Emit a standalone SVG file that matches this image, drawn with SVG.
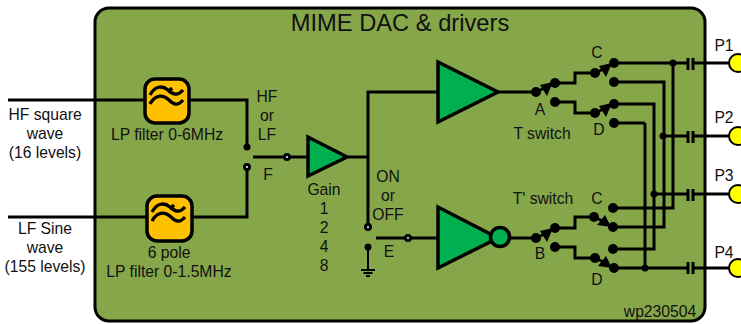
<svg xmlns="http://www.w3.org/2000/svg" width="741" height="324" viewBox="0 0 741 324">
<style>
text{font-family:"Liberation Sans",Arial,sans-serif;font-size:15.700px;fill:#111;text-anchor:middle}
.w{fill:none;stroke:#000;stroke-width:3}
.g{fill:none;stroke:#000;stroke-width:2}
.a{fill:#00b050;stroke:#000;stroke-width:3.500}
.f{fill:#ffc000;stroke:#000;stroke-width:3.500}
.v{fill:none;stroke:#000;stroke-width:3.300}
.o{fill:#fff;stroke:#000;stroke-width:3}
.p{fill:#ffff00;stroke:#000;stroke-width:2}
</style>
<defs>
<g id="wave"><path class="v" d="M5 16C10 7 17 6 23 11C28 16 33 17 38 11"/><path class="v" d="M5 25C10 16 17 15 24 21C29 26 33 27 38 21"/><path class="v" d="M23 13L27 9"/></g>
<g id="sw"><path d="M0 0L13 -6" stroke="#000" stroke-width="2.500"/><path d="M17 -10L4 -7L11 4Z" fill="#000"/></g>
<g id="sd"><path d="M0 0L13 6" stroke="#000" stroke-width="2.500"/><path d="M17 10L3 8L11 -2Z" fill="#000"/></g>
</defs>
<g id="panel"><rect x="95" y="8" width="610" height="313" rx="14" fill="#86a64a" stroke="#000" stroke-width="3"/>
<text x="400" y="31" style="font-size:23.700px">MIME DAC &amp; drivers</text>
<text x="660" y="317">wp230504</text></g>
<g id="connectors">
<path class="w" d="M8 100H144M189 100H247V147M8 217H146M192 217H247V167M253 157H308M347 157H368M368 226V92H438M498 92H536M376 238H438M510 238H536"/>
<path class="g" d="M368 247V270M361 270H375M363.500 273H372.500M366 276H370"/>
<path class="w" d="M555 83H575V73H595M555 102H575V113H595M555 228H575V217H594M555 247H575V258H595"/>
<path class="w" d="M614 63H688M693 63H730M614 82H664V227H613M663 136H688M693 136H730M614 104H654V249H613M654 194H688M693 194H730M673 63V208H613M614 268H688M693 268H730M645 123H614M645 123V268"/>
<path class="w" d="M688 58V70M693 58V70M688 131V143M693 131V143M688 189V201M693 189V201M688 262V274M693 262V274"/>
<use href="#sw" x="536" y="92"/><use href="#sw" x="595" y="73"/><use href="#sw" x="595" y="113"/><use href="#sw" x="536" y="238"/><use href="#sd" x="594" y="217"/><use href="#sd" x="595" y="258"/>
</g>
<g id="filter-hf"><rect class="f" x="145" y="79" width="44" height="44" rx="10"/><use href="#wave" x="145" y="79"/><text x="167" y="140">LP filter 0-6MHz</text></g>
<g id="filter-lf"><rect class="f" x="147" y="196" width="45" height="45" rx="10"/><use href="#wave" x="147" y="196"/><text x="169" y="258">6 pole</text><text x="169" y="277">LP filter 0-1.5MHz</text></g>
<g id="input-hf"><text x="45" y="120">HF square</text><text x="45" y="139">wave</text><text x="45" y="158">(16 levels)</text></g>
<g id="input-lf"><text x="45" y="234">LF Sine</text><text x="45" y="253">wave</text><text x="45" y="272">(155 levels)</text></g>
<g id="switch-f"><circle cx="247" cy="147" r="3.500"/><circle class="o" cx="247" cy="167" r="2.500"/><circle class="o" cx="287" cy="157" r="2.500"/><text x="267" y="102">HF</text><text x="267" y="121">or</text><text x="267" y="140">LF</text><text x="268" y="180">F</text></g>
<g id="gain"><path class="a" d="M308 137V176L347 157Z"/><text x="324" y="195">Gain</text><text x="324" y="214">1</text><text x="324" y="233">2</text><text x="324" y="252">4</text><text x="324" y="271">8</text></g>
<g id="switch-e"><circle class="o" cx="368" cy="227" r="2.500"/><circle cx="368" cy="247" r="3.500"/><circle class="o" cx="408" cy="238" r="2.500"/><text x="388" y="182">ON</text><text x="388" y="201">or</text><text x="388" y="220">OFF</text><text x="389" y="257">E</text></g>
<g id="amp-t"><path class="a" d="M438 62V122L498 92Z"/></g>
<g id="amp-tb"><path class="a" d="M438 207V268L498 238Z"/><circle class="a" cx="500" cy="237" r="9.500"/></g>
<g id="switch-t" fill="#000"><circle cx="536" cy="92" r="5"/><circle cx="555" cy="83" r="5"/><circle cx="555" cy="102" r="5"/><circle cx="595" cy="73" r="5"/><circle cx="614" cy="63" r="5"/><circle cx="614" cy="82" r="5"/><circle cx="595" cy="113" r="5"/><circle cx="614" cy="104" r="5"/><circle cx="614" cy="123" r="5"/><text x="540" y="115">A</text><text x="542" y="139">T switch</text><text x="597" y="58">C</text><text x="599" y="135">D</text></g>
<g id="switch-tb" fill="#000"><circle cx="536" cy="238" r="5"/><circle cx="555" cy="228" r="5"/><circle cx="555" cy="247" r="5"/><circle cx="594" cy="217" r="5"/><circle cx="613" cy="208" r="5"/><circle cx="613" cy="227" r="5"/><circle cx="595" cy="258" r="5"/><circle cx="613" cy="249" r="5"/><circle cx="614" cy="268" r="5"/><text x="540" y="259">B</text><text x="543" y="204">T' switch</text><text x="597" y="204">C</text><text x="597" y="285">D</text></g>
<g id="junctions"><circle cx="673" cy="63" r="3.500"/><circle cx="663" cy="136" r="3.500"/><circle cx="654" cy="194" r="3.500"/><circle cx="645" cy="268" r="3.500"/></g>
<g id="P1"><circle class="p" cx="738" cy="63" r="9"/><text x="724" y="51">P1</text></g>
<g id="P2"><circle class="p" cx="738" cy="136" r="9"/><text x="724" y="123">P2</text></g>
<g id="P3"><circle class="p" cx="738" cy="194" r="9"/><text x="724" y="181">P3</text></g>
<g id="P4"><circle class="p" cx="738" cy="268" r="9"/><text x="724" y="258">P4</text></g>
</svg>
